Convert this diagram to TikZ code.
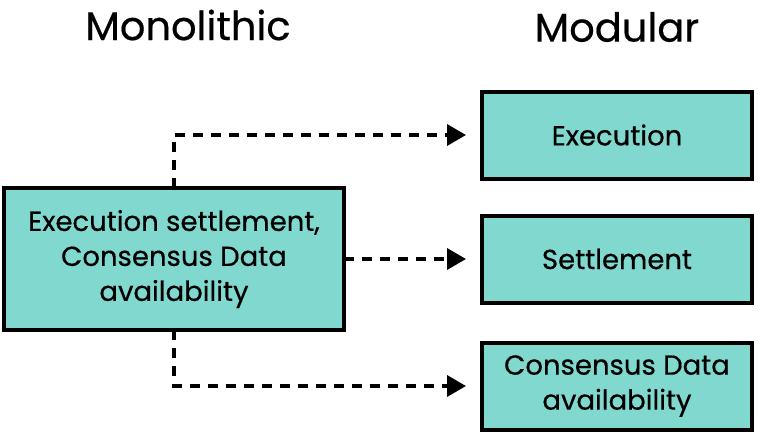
\documentclass[tikz,border=0pt]{standalone}
\usepackage{fontspec}
\setmainfont{Poppins}[FakeBold=0.5]
\usetikzlibrary{positioning,arrows.meta}
\definecolor{boxteal}{RGB}{128,216,206}
\begin{document}
\begin{tikzpicture}[
    x=1pt,
    y=1pt,
    line width=4pt,
    box/.style={draw, fill=boxteal, align=center, outer sep=0pt,
      font=\fontsize{27.5}{35}\selectfont},
    split/.style={line width=3.5pt, dashed, dash pattern=on 10pt off 8pt,
      -{Triangle[length=19pt,width=21pt]}, shorten >=16pt},
    title/.style={font=\fontsize{40}{46}\selectfont}
]
\useasboundingbox (0,0) rectangle (758,-434);
\node[box, minimum width=340pt, minimum height=142pt] (mono) at (174,-259)
  {Execution settlement,\\Consensus Data\\availability};
\node[box, minimum width=270pt, minimum height=87pt, right=138pt of mono] (settle) {Settlement};
\node[box, minimum width=270pt, minimum height=87pt, above=37pt of settle] (exec) {Execution};
\node[box, minimum width=270pt, minimum height=87pt, below=40pt of settle] (cons)
  {Consensus Data\\availability};
\node[title] (monot) at (188,-25) {Monolithic};
\node[title] (modt) at (617,-27) {Modular};
\draw[split] (mono.north) |- (exec.west);
\draw[split] (mono.east) -- (settle.west);
\draw[split] (mono.south) |- (cons.west);
\end{tikzpicture}
\end{document}
